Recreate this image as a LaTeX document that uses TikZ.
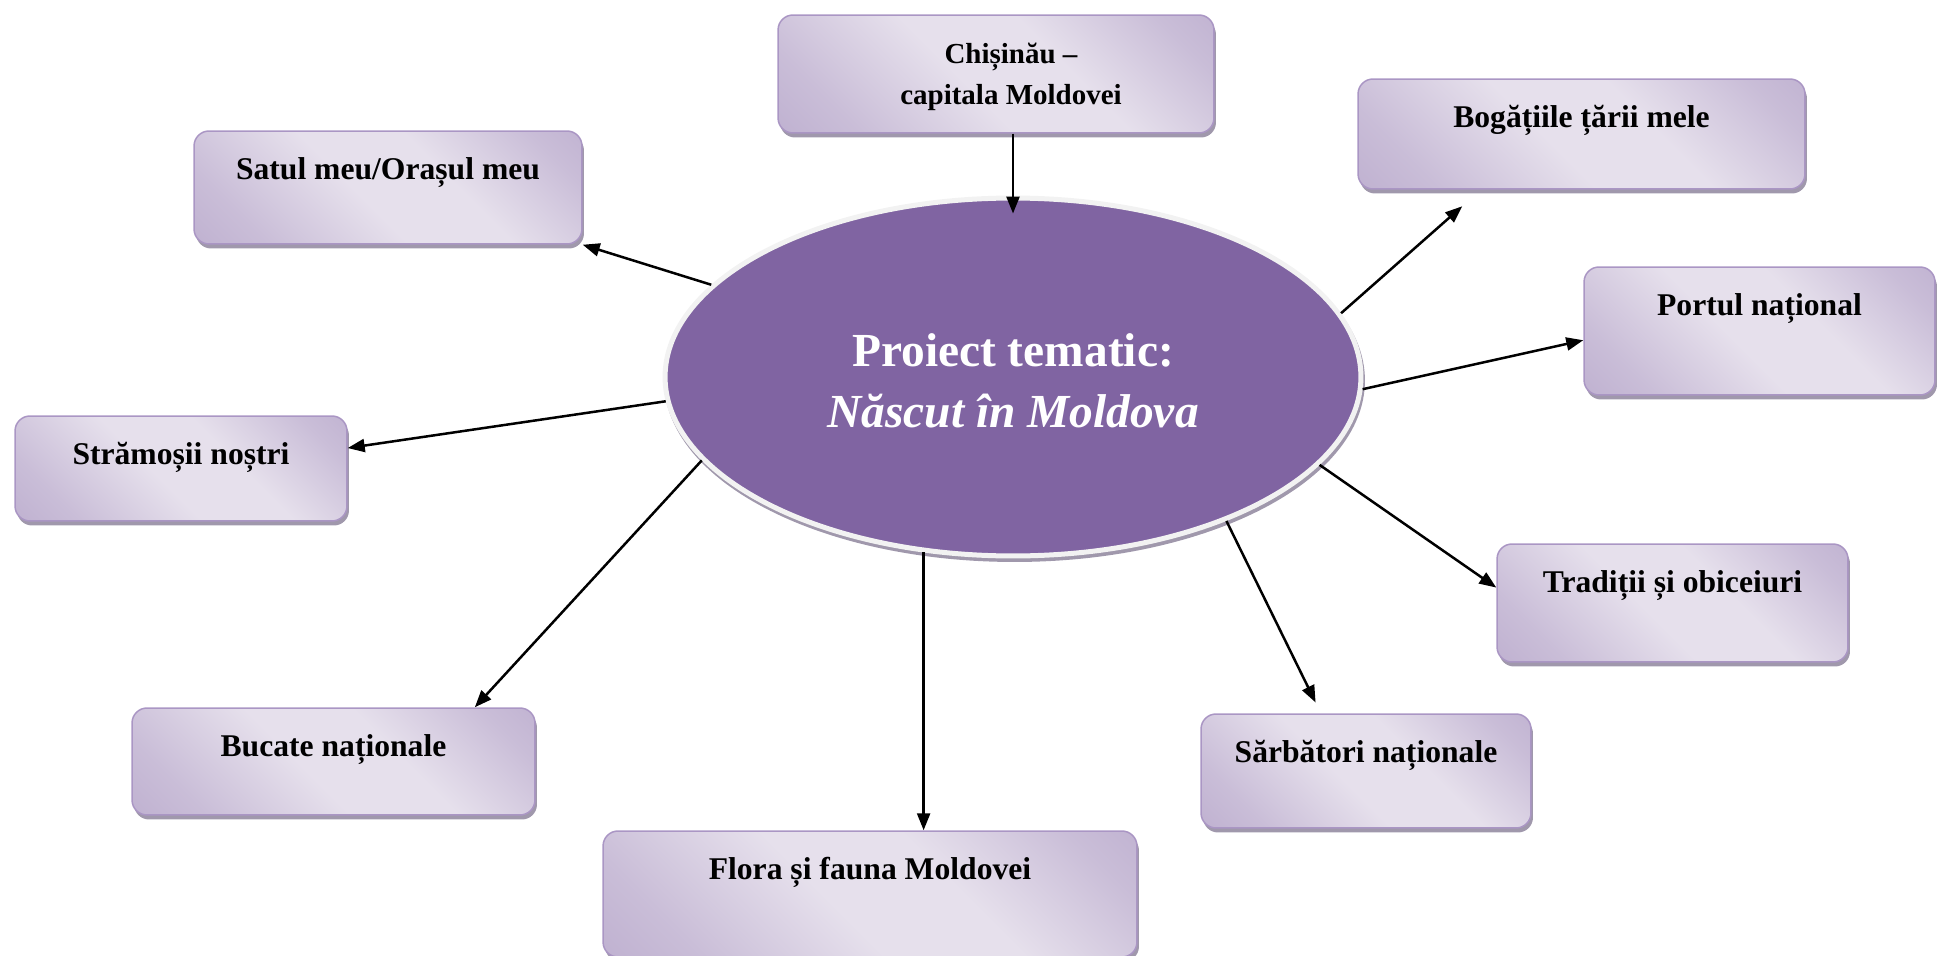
\documentclass[tikz,border=0pt]{standalone}
\usepackage{fontspec}
\setmainfont{Liberation Serif}
\usepackage{xcolor}
\usepackage{tikz}
\definecolor{boxdark}{RGB}{178, 161, 199}
\definecolor{boxlight}{RGB}{230, 224, 236}
\definecolor{boxedge}{RGB}{170, 150, 196}
\definecolor{boxshadow}{RGB}{160, 152, 172}
\definecolor{themepurple}{RGB}{128, 100, 162}
\definecolor{rimgray}{RGB}{242, 242, 242}
\usetikzlibrary{shapes.geometric, arrows.meta, shadows}
\pgfdeclarehorizontalshading{boxshade}{100bp}{color(0bp)=(boxdark); color(25bp)=(boxdark!55!boxlight); color(45bp)=(boxlight); color(60bp)=(boxlight); color(78bp)=(boxdark!55!boxlight); color(100bp)=(boxdark)}

\begin{document}
\begin{tikzpicture}[
        x=0.02cm, y=-0.02cm,
        box/.style={rectangle, draw=boxedge, line width=0.03cm, rounded corners=0.3cm,
                    shading=boxshade, shading angle=45,
                    drop shadow={shadow xshift=0.04cm, shadow yshift=-0.09cm, fill=boxshadow, opacity=1}},
        boxfont/.style={font=\fontsize{18}{23.2}\selectfont\bfseries, inner sep=0pt},
        boxtext/.style={boxfont, text height=0.5cm, text depth=0.2cm, yshift=-1.2cm},
        theme/.style={ellipse, fill=themepurple, draw=rimgray, line width=0.1cm,
                    minimum width=13.92cm, minimum height=7.16cm, inner sep=0pt,
                    drop shadow={shadow xshift=0.03cm, shadow yshift=-0.07cm, fill=boxshadow, draw=boxshadow, opacity=1},
                    text=white, align=center, font=\fontsize{27}{34.8}\selectfont\bfseries},
        arrow/.style={-{Triangle[length=0.34cm, width=0.26cm]}, line width=0.05cm, black}
    ]
        \useasboundingbox (0,0) rectangle (1937,956);

        % centre
        \node[theme] (tema) at (1013,377) {\rule{0pt}{0.8cm}Proiect tematic:\\\textit{Născut în Moldova}};

        % boxes round it
        \node[box, minimum width=8.72cm, minimum height=2.36cm,
              label={[boxfont, font=\fontsize{16.5}{23.2}\selectfont\bfseries, align=center,
                      xshift=0.3cm, yshift=-1.93cm]north:Chișinău –\\capitala Moldovei}] (chisinau) at (996,74) {};
        \node[box, minimum width=7.76cm, minimum height=2.26cm,
              label={[boxtext]north:Satul meu/Orașul meu}] (satul) at (388,187.5) {};
        \node[box, minimum width=8.94cm, minimum height=2.2cm,
              label={[boxtext]north:Bogățiile țării mele}] (bogatii) at (1581.5,134) {};
        \node[box, minimum width=7.02cm, minimum height=2.56cm,
              label={[boxtext]north:Portul național}] (portul) at (1759.5,331) {};
        \node[box, minimum width=6.64cm, minimum height=2.1cm,
              label={[boxtext]north:Strămoșii noștri}] (stramosii) at (181,468.5) {};
        \node[box, minimum width=7.02cm, minimum height=2.36cm,
              label={[boxtext]north:Tradiții și obiceiuri}] (traditii) at (1672.5,603) {};
        \node[box, minimum width=8.06cm, minimum height=2.14cm,
              label={[boxtext]north:Bucate naționale}] (bucate) at (333.5,761.5) {};
        \node[box, minimum width=6.6cm, minimum height=2.28cm,
              label={[boxtext]north:Sărbători naționale}] (sarbatori) at (1366,771) {};
        \node[box, minimum width=10.68cm, minimum height=2.52cm,
              label={[boxtext]north:Flora și fauna Moldovei}] (flora) at (870,894) {};

        % connectors
        \draw[arrow, shorten >=-0.36cm] (tema.north |- chisinau.south) -- (tema.north);
        \draw[arrow] (tema.163) -- (satul.south east);
        \draw[arrow, shorten >=0.5cm] (tema.11.5) -- (bogatii.209);
        \draw[arrow] (tema.-2.5) -- (portul.183);
        \draw[arrow] (tema.184) -- (stramosii.7);
        \draw[arrow] (tema.-16.6) -- (traditii.175);
        \draw[arrow] (tema.195) -- (bucate.21);
        \draw[arrow, shorten >=0.24cm] (tema.-34) -- (sarbatori.128);
        \draw[arrow] (tema.243) -- (tema.243 |- flora.north);
    \end{tikzpicture}
\end{document}
